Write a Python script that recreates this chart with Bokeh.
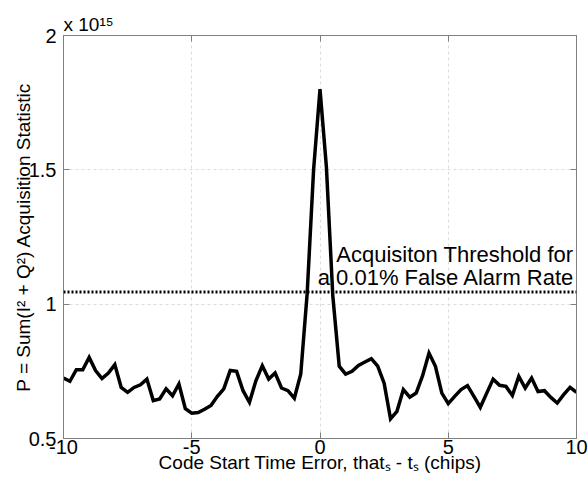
from bokeh.plotting import figure
from bokeh.models import FixedTicker, CustomJSTickFormatter, LinearAxis, Label, Span
from bokeh.embed import file_html
from bokeh.resources import INLINE

# code start time error (chips)
offset_chips = [
    -10.0, -9.75, -9.5, -9.25, -9.0, -8.75, -8.5, -8.25, -8.0, -7.75,
    -7.5, -7.25, -7.0, -6.75, -6.5, -6.25, -6.0, -5.75, -5.5, -5.25,
    -5.0, -4.75, -4.5, -4.25, -4.0, -3.75, -3.5, -3.25, -3.0, -2.75,
    -2.5, -2.25, -2.0, -1.75, -1.5, -1.25, -1.0, -0.75, -0.5, -0.25,
    0.0, 0.25, 0.5, 0.75, 1.0, 1.25, 1.5, 1.75, 2.0, 2.25,
    2.5, 2.75, 3.0, 3.25, 3.5, 3.75, 4.0, 4.25, 4.5, 4.75,
    5.0, 5.25, 5.5, 5.75, 6.0, 6.25, 6.5, 6.75, 7.0, 7.25,
    7.5, 7.75, 8.0, 8.25, 8.5, 8.75, 9.0, 9.25, 9.5, 9.75, 10.0,
]
# acquisition statistic, in units of 1e15
statistic = [
    0.725, 0.713, 0.756, 0.756, 0.802, 0.753, 0.723, 0.744, 0.775, 0.690,
    0.672, 0.690, 0.700, 0.721, 0.641, 0.647, 0.685, 0.659, 0.703, 0.611,
    0.594, 0.597, 0.609, 0.623, 0.657, 0.685, 0.753, 0.750, 0.678, 0.635,
    0.715, 0.771, 0.721, 0.744, 0.688, 0.678, 0.650, 0.740, 1.040, 1.500,
    1.800, 1.510, 1.030, 0.769, 0.740, 0.750, 0.772, 0.785, 0.797, 0.769,
    0.706, 0.573, 0.601, 0.682, 0.654, 0.669, 0.734, 0.818, 0.769, 0.669,
    0.630, 0.657, 0.682, 0.697, 0.657, 0.616, 0.669, 0.721, 0.698, 0.694,
    0.660, 0.731, 0.688, 0.725, 0.675, 0.678, 0.653, 0.632, 0.663, 0.690, 0.672,
]
threshold = 1.045
x_ticks = [-10, -5, 0, 5, 10]
y_ticks = [0.5, 1, 1.5, 2]
x_label = "Code Start Time Error, thatₛ - tₛ (chips)"
y_label = "P = Sum(I² + Q²) Acquisition Statistic"
exponent_label = "x 10¹⁵"
thr_lines = ["Acquisiton Threshold for", "a 0.01% False Alarm Rate"]

FONT = "Liberation Sans"
FS = "20px"
LFS = "19px"
AXC = "#808080"

p = figure(width=588, height=480, x_range=(-10, 10), y_range=(0.5, 2),
           output_backend="svg", toolbar_location=None,
           min_border_left=63, min_border_right=12, min_border_top=35, min_border_bottom=42)
p.background_fill_color = "white"
p.border_fill_color = "white"
p.outline_line_color = AXC

plain = CustomJSTickFormatter(code="return tick.toString();")
for ax in (p.xaxis[0], p.yaxis[0]):
    ax.axis_line_color = AXC
    ax.major_tick_line_color = AXC
    ax.major_tick_in = 6
    ax.major_tick_out = 0
    ax.minor_tick_line_color = None
    ax.major_label_text_font = FONT
    ax.major_label_text_font_size = FS
    ax.major_label_text_color = "black"
    ax.formatter = plain
    ax.axis_label_text_font = FONT
    ax.axis_label_text_font_size = LFS
    ax.axis_label_text_font_style = "normal"
    ax.axis_label_text_color = "black"
p.xaxis.ticker = FixedTicker(ticks=x_ticks)
p.yaxis.ticker = FixedTicker(ticks=y_ticks)
p.xaxis.axis_label = x_label
p.yaxis.axis_label = y_label
p.xaxis.major_label_standoff = 1
p.xaxis.axis_label_standoff = -5
p.yaxis.major_label_standoff = 7
p.yaxis.axis_label_standoff = -8

# ticks on the top and right of the box
blank = CustomJSTickFormatter(code="return '';")
top = LinearAxis(ticker=FixedTicker(ticks=x_ticks), formatter=blank,
                 major_tick_in=6, major_tick_out=0, minor_tick_line_color=None,
                 axis_line_color=AXC, major_tick_line_color=AXC, major_label_standoff=0)
right = LinearAxis(ticker=FixedTicker(ticks=y_ticks), formatter=blank,
                   major_tick_in=6, major_tick_out=0, minor_tick_line_color=None,
                   axis_line_color=AXC, major_tick_line_color=AXC, major_label_standoff=0)
p.add_layout(top, "above")
p.add_layout(right, "right")

p.title.text = exponent_label
p.title.align = "left"
p.title.text_font = FONT
p.title.text_font_size = "19px"
p.title.text_font_style = "normal"
p.title.text_color = "black"
p.title.standoff = 2

p.xgrid.ticker = FixedTicker(ticks=x_ticks)
p.ygrid.ticker = FixedTicker(ticks=y_ticks)
p.grid.grid_line_color = "#dcdcdc"
p.grid.grid_line_dash = "3 3"
p.grid.grid_line_width = 1

p.line(offset_chips, statistic, line_color="black", line_width=3.5, line_join="miter")

p.add_layout(Span(location=threshold, dimension="width", line_color="black",
                  line_width=3, line_dash="2 2"))

p.add_layout(Label(x=10, y=threshold, x_offset=-3, y_offset=25, text=thr_lines[0],
                   text_align="right", text_baseline="bottom",
                   text_font=FONT, text_font_size="22px", text_color="black"))
p.add_layout(Label(x=10, y=threshold, x_offset=-2, y_offset=2, text=thr_lines[1],
                   text_align="right", text_baseline="bottom",
                   text_font=FONT, text_font_size="22px", text_color="black"))

open("out.html", "w").write(file_html(p, INLINE))
